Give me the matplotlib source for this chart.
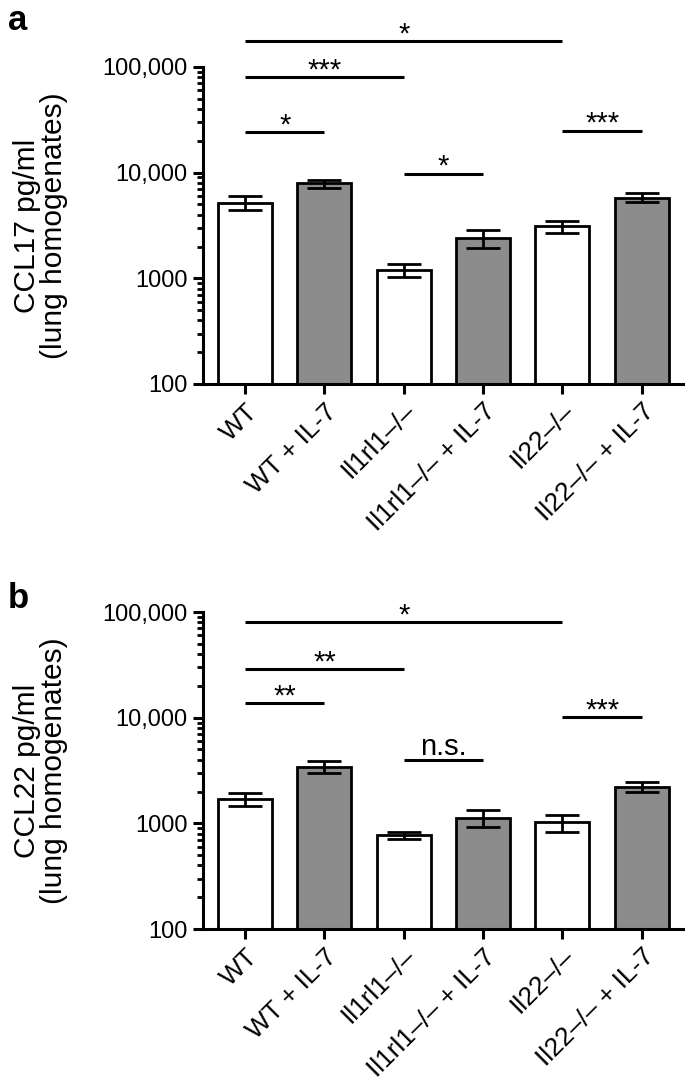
import numpy as np
import matplotlib
matplotlib.use("Agg")
import matplotlib.pyplot as plt

plt.rcParams['font.family'] = ['Liberation Sans', 'DejaVu Sans']

groups = ['WT', 'WT + IL-7', 'Il1rl1\u2013/\u2013', 'Il1rl1\u2013/\u2013 + IL-7',
          'Il22\u2013/\u2013', 'Il22\u2013/\u2013 + IL-7']
bar_colors = ['white', '#8c8c8c', 'white', '#8c8c8c', 'white', '#8c8c8c']

# panel a: CCL17
ccl17_mean = [5200, 7900, 1200, 2400, 3100, 5800]
ccl17_sem = [800, 700, 180, 480, 420, 560]
# (left group, right group, line height, label)
ccl17_sig = [(0, 4, 176000, '*'), (0, 2, 80000, '***'), (0, 1, 24000, '*'),
             (2, 3, 9800, '*'), (4, 5, 25000, '***')]

# panel b: CCL22
ccl22_mean = [1700, 3450, 770, 1130, 1020, 2220]
ccl22_sem = [250, 440, 55, 210, 190, 260]
ccl22_sig = [(0, 4, 80000, '*'), (0, 2, 29000, '**'), (0, 1, 13700, '**'),
             (2, 3, 3960, 'n.s.'), (4, 5, 10200, '***')]


def draw_panel(ax, means, sems, sig, ylabel):
    x = np.arange(len(groups))
    ax.bar(x, means, width=0.68, color=bar_colors, edgecolor='black', linewidth=2, zorder=2)
    ax.errorbar(x, means, yerr=sems, fmt='none', ecolor='black', elinewidth=2,
                capsize=12, capthick=2, zorder=3)
    ax.set_yscale('log')
    ax.set_ylim(100, 100000)
    ax.set_xlim(-0.53, 5.52)
    ax.set_yticks([100, 1000, 10000, 100000])
    ax.set_yticklabels(['100', '1000', '10,000', '100,000'], fontsize=17)
    ax.set_xticks(x)
    ax.set_xticklabels(groups, rotation=45, ha='right', rotation_mode='anchor', fontsize=19)
    ax.tick_params(axis='both', which='major', width=2.2, length=7, pad=4)
    ax.tick_params(axis='y', which='minor', width=2, length=4)
    for s in ['top', 'right']:
        ax.spines[s].set_visible(False)
    for s in ['left', 'bottom']:
        ax.spines[s].set_linewidth(2.2)
    ax.set_ylabel(ylabel, fontsize=21.5, linespacing=0.95)
    ax.yaxis.set_label_coords(-0.281, 0.5)

    for i, j, yl, lab in sig:
        ax.plot([i, j], [yl, yl], color='black', lw=2.2, clip_on=False, solid_capstyle='butt')
        off = 4 if lab == 'n.s.' else -1
        ax.annotate(lab, xy=((i + j) / 2, yl), xytext=(0, off), textcoords='offset points',
                    ha='center', va='baseline', fontsize=21, annotation_clip=False)


fig = plt.figure(figsize=(6.85, 10.89), dpi=100)
ax1 = fig.add_axes([0.2964, 0.6474, 0.7006, 0.2911])
ax2 = fig.add_axes([0.2964, 0.1469, 0.7006, 0.2911])

draw_panel(ax1, ccl17_mean, ccl17_sem, ccl17_sig, 'CCL17 pg/ml\n(lung homogenates)')
draw_panel(ax2, ccl22_mean, ccl22_sem, ccl22_sig, 'CCL22 pg/ml\n(lung homogenates)')

fig.text(0.012, 0.996, 'a', fontsize=25, fontweight='bold', va='top', ha='left')
fig.text(0.012, 0.466, 'b', fontsize=25, fontweight='bold', va='top', ha='left')

fig.savefig('out.png', dpi=100)
